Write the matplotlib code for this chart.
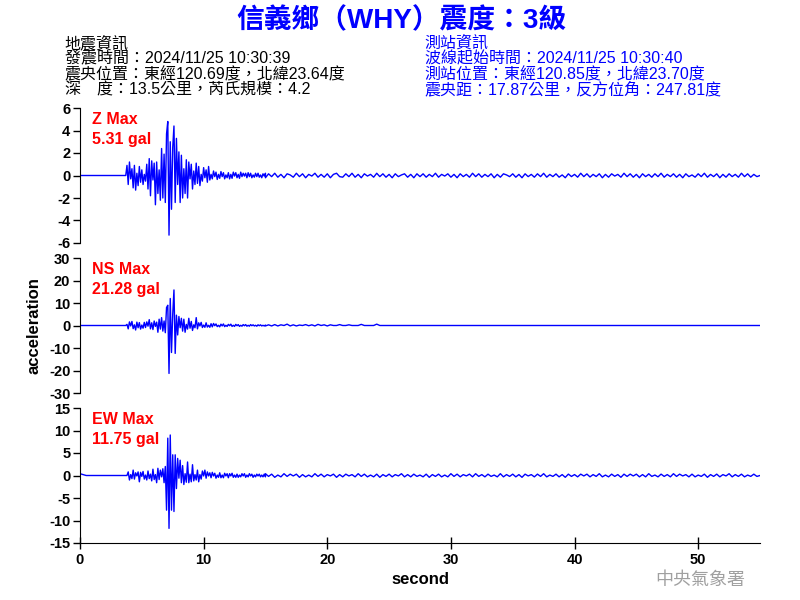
import numpy as np
import matplotlib
matplotlib.use("Agg")
import matplotlib.pyplot as plt

plt.rcParams['font.family'] = ['Liberation Sans', 'Noto Sans CJK TC', 'DejaVu Sans']
plt.rcParams['axes.unicode_minus'] = False

dt_pre, dt_core, dt_tail = 0.5, 0.1, 0.25

z_pre = [0.0, 0.0, 0.0, 0.0, 0.0, 0.0, 0.0, 0.0]
z_core = [0.0, 0.9, -0.8, 1.2, -0.3, 0.6, -1.1, 0.9, -1.3, 0.2, -0.9,
          0.8, -0.6, 0.5, -0.8, 0.1, -0.5, 1.0, -1.2, 1.5, -1.8,
          1.3, -0.4, 1.1, -2.6, 1.2, -1.6, 0.5, -2.2, 2.4, -2.0,
          1.9, -2.4, 3.7, 4.8, -5.3, 3.0, -3.0, 2.5, 4.4, -2.4,
          3.3, -0.8, 2.1, -2.4, 1.8, -2.0, 0.6, -1.6, 1.4, -2.0,
          1.2, -0.3, 1.0, -1.2, 0.4, -0.8, 1.1, -0.7, 0.8, -0.9,
          0.1, -0.5, 0.7, -0.2, 0.5, -0.6, 0.8, -0.4, 0.1, -0.3,
          0.4, -0.1, 0.3, -0.35, 0.1, -0.25, 0.35, -0.1, 0.25, -0.3,
          0.05, -0.2, 0.25, -0.3, 0.1, -0.25, 0.3, -0.05, 0.25, -0.2,
          0.1, -0.25, 0.3, -0.1, 0.2, -0.05, 0.2, -0.2, 0.25, -0.1,
          0.2, -0.2, 0.05, -0.15, 0.2, -0.1, 0.2, -0.15, 0.05, -0.2,
          0.15, -0.05, 0.2]
z_tail = [-0.2, 0.15, -0.1, 0.2, -0.15, 0.1, -0.2, 0.15, 0.05, -0.15,
          0.2, -0.1, 0.15, -0.2, 0.1, -0.05, 0.2, -0.15, 0.1, -0.15,
          0.15, -0.2, 0.1, 0.2, -0.1, -0.15, 0.15, -0.1, 0.2, -0.15,
          0.1, -0.2, 0.15, -0.05, 0.1, -0.15, 0.2, -0.1, 0.15, -0.15,
          0.1, -0.2, 0.15, -0.1, 0.05, 0.15, -0.15, 0.1, -0.2, 0.15,
          -0.1, 0.15, -0.15, 0.1, -0.1, 0.2, -0.15, 0.1, -0.05, 0.15,
          -0.15, 0.1, -0.2, 0.15, -0.1, 0.1, -0.15, 0.2, -0.1, 0.15,
          -0.15, 0.1, -0.1, 0.15, -0.2, 0.1, -0.15, 0.15, 0.05, -0.1,
          0.15, -0.15, 0.1, -0.2, 0.15, -0.1, 0.1, -0.15, 0.15, -0.1,
          0.2, -0.15, 0.1, -0.1, 0.15, -0.15, 0.05, -0.2, 0.15, -0.1,
          0.1, -0.15, 0.2, -0.1, 0.15, -0.15, 0.1, -0.1, 0.15, -0.2,
          0.1, -0.15, 0.15, -0.05, 0.1, -0.15, 0.2, -0.1, 0.15, -0.15,
          0.1, -0.2, 0.15, -0.1, 0.1, -0.15, 0.15, -0.1, 0.2, -0.15,
          0.1, -0.1, 0.15, -0.15, 0.1, -0.2, 0.15, -0.1, 0.05, -0.15,
          0.15, -0.1, 0.2, -0.15, 0.1, -0.1, 0.15, -0.2, 0.1, -0.15,
          0.15, -0.1, 0.1, -0.15, 0.2, -0.1, 0.15, -0.15, 0.1, -0.1, 0.0]

ns_pre = [0.0, 0.0, 0.0, 0.0, 0.0, 0.0, 0.0, 0.0]
ns_core = [0.0, 0.5, -1.5, 1.6, -0.2, 1.8, -1.4, 0.3, -2.0, 1.5, -1.0,
           1.3, -1.6, 0.2, -1.2, 1.4, -0.9, 1.6, -0.3, 2.6, -1.5,
           1.2, -1.8, 2.0, -0.4, 1.5, -3.0, 2.8, -1.6, 3.5, -2.5,
           2.0, -3.2, 8.0, 9.0, -21.3, 12.0, -12.0, 5.0, 15.8, -12.4,
           4.6, -4.2, 4.0, -1.0, 3.2, -2.5, 2.8, -3.0, 0.5, -1.6,
           3.2, -1.2, 1.8, -2.2, 0.3, -1.0, 3.5, -1.5, 1.2, -0.2,
           1.4, -0.9, 0.2, -0.8, 1.2, -0.7, 0.1, -0.8, 0.8, -0.6,
           0.9, -0.1, 0.7, -0.5, 0.1, -0.6, 0.6, -0.2, 0.7, -0.5,
           0.1, -0.4, 0.5, -0.1, 0.6, -0.4, 0.1, -0.4, 0.5, -0.1,
           0.4, -0.4, 0.1, -0.3, 0.4, -0.1, 0.4, -0.3, 0.1, -0.3,
           0.4, -0.1, 0.3, -0.2, 0.1, -0.3, 0.3, -0.1, 0.3, -0.2,
           0.1, -0.2, 0.2]
ns_tail = [-0.2, 0.3, -0.2, 0.4, -0.2, 0.3, 0.0, 0.6, -0.2, 0.3,
           -0.2, 0.2, 0.0, 0.4, -0.1, 0.3, -0.2, 0.5, 0.0, 0.3,
           -0.2, 0.3, 0.0, 0.0, 0.4, 0.0, 0.0, 0.3, 0.0, 0.0,
           0.0, 0.5, 0.0, 0.0, 0.0, 0.0, 0.6, 0.0, 0.0, 0.0,
           0.0, 0.0, 0.0, 0.0, 0.0, 0.0, 0.0, 0.0, 0.0, 0.0,
           0.0, 0.0, 0.0, 0.0, 0.0, 0.0, 0.0, 0.0, 0.0, 0.0,
           0.0, 0.0, 0.0, 0.0, 0.0, 0.0, 0.0, 0.0, 0.0, 0.0,
           0.0, 0.0, 0.0, 0.0, 0.0, 0.0, 0.0, 0.0, 0.0, 0.0,
           0.0, 0.0, 0.0, 0.0, 0.0, 0.0, 0.0, 0.0, 0.0, 0.0,
           0.0, 0.0, 0.0, 0.0, 0.0, 0.0, 0.0, 0.0, 0.0, 0.0,
           0.0, 0.0, 0.0, 0.0, 0.0, 0.0, 0.0, 0.0, 0.0, 0.0,
           0.0, 0.0, 0.0, 0.0, 0.0, 0.0, 0.0, 0.0, 0.0, 0.0,
           0.0, 0.0, 0.0, 0.0, 0.0, 0.0, 0.0, 0.0, 0.0, 0.0,
           0.0, 0.0, 0.0, 0.0, 0.0, 0.0, 0.0, 0.0, 0.0, 0.0,
           0.0, 0.0, 0.0, 0.0, 0.0, 0.0, 0.0, 0.0, 0.0, 0.0,
           0.0, 0.0, 0.0, 0.0, 0.0, 0.0, 0.0, 0.0, 0.0, 0.0, 0.0]

ew_pre = [0.4, 0.0, 0.0, 0.0, 0.0, 0.0, 0.0, 0.0]
ew_core = [0.0, 0.0, 0.8, -1.0, 0.2, -0.7, 1.2, -0.8, 0.6, -0.1, 0.8,
           -1.4, 0.7, -0.2, 0.9, -0.8, 0.1, -1.0, 1.0, -0.7, 0.3,
           -1.2, 1.4, -0.9, 0.2, -1.6, 1.6, -0.9, 1.2, -0.3, 1.5,
           -1.6, 2.0, -7.7, 8.3, -11.75, 9.0, -7.7, 4.6, -8.0, 4.6,
           -2.9, 3.8, -0.6, 3.4, -1.6, 2.2, -2.0, 0.4, -1.5, 3.0,
           -1.6, 0.3, -1.4, 2.4, -1.2, 0.2, -1.0, 1.2, -1.4, 0.2,
           -0.8, 1.0, -0.1, 1.2, -0.6, 0.8, -0.1, 0.6, -0.5, 0.7,
           -0.1, 0.5, -0.6, 0.1, -0.4, 0.6, -0.5, 0.1, -0.5, 0.5,
           -0.1, 0.4, -0.5, 0.4, -0.1, 0.5, -0.4, 0.1, -0.4, 0.3,
           -0.4, 0.1, -0.3, 0.4, -0.1, 0.4, -0.4, 0.1, -0.3, 0.4,
           -0.1, 0.3, -0.4, 0.1, -0.3, 0.3, -0.1, 0.3, -0.3, 0.1,
           -0.3, 0.3, -0.3]
ew_tail = [0.4, -0.2, 0.3, -0.4, 0.1, -0.3, 0.4, -0.2, 0.3, -0.1,
           0.3, -0.4, 0.2, -0.3, 0.1, -0.3, 0.4, -0.2, 0.3, -0.3,
           0.2, -0.1, 0.3, -0.4, 0.2, -0.3, 0.3, -0.1, 0.2, -0.3,
           0.4, -0.2, 0.3, -0.3, 0.1, -0.3, 0.3, -0.4, 0.2, -0.2,
           0.3, -0.3, 0.2, -0.1, 0.4, -0.3, 0.2, -0.3, 0.3, -0.2,
           0.1, -0.3, 0.3, -0.4, 0.2, -0.2, 0.3, -0.3, 0.1, -0.3,
           0.4, -0.2, 0.3, -0.3, 0.2, -0.1, 0.3, -0.3, 0.4, -0.2,
           0.2, -0.3, 0.3, -0.2, 0.1, -0.3, 0.4, -0.3, 0.2, -0.2,
           0.3, -0.3, 0.2, -0.4, 0.3, -0.1, 0.2, -0.3, 0.3, -0.2,
           0.4, -0.3, 0.1, -0.2, 0.3, -0.3, 0.2, -0.4, 0.3, -0.2,
           0.2, -0.3, 0.3, -0.1, 0.3, -0.3, 0.2, -0.2, 0.4, -0.3,
           0.1, -0.3, 0.3, -0.2, 0.2, -0.4, 0.3, -0.2, 0.3, -0.1,
           0.3, -0.3, 0.2, -0.3, 0.4, -0.2, 0.1, -0.3, 0.3, -0.2,
           0.2, -0.3, 0.4, -0.2, 0.3, -0.1, 0.2, -0.3, 0.3, -0.3,
           0.1, -0.2, 0.3, -0.4, 0.2, -0.2, 0.3, -0.3, 0.2, -0.1,
           0.4, -0.3, 0.2, -0.2, 0.3, -0.3, 0.1, -0.2, 0.3, -0.2, 0.0]

channels = ['Z', 'NS', 'EW']
max_labels = ['5.31', '21.28', '11.75']
y_limits = [6, 30, 15]
y_steps = [2, 10, 5]
traces = [(z_pre, z_core, z_tail), (ns_pre, ns_core, ns_tail), (ew_pre, ew_core, ew_tail)]

title = '信義鄉（WHY）震度：3級'
quake_info = ['地震資訊', '發震時間：2024/11/25 10:30:39',
              '震央位置：東經120.69度，北緯23.64度', '深　度：13.5公里，芮氏規模：4.2']
station_info = ['測站資訊', '波線起始時間：2024/11/25 10:30:40',
                '測站位置：東經120.85度，北緯23.70度', '震央距：17.87公里，反方位角：247.81度']


def build_time(pre, core, tail):
    t_pre = np.arange(len(pre)) * dt_pre
    t_core = 3.7 + np.arange(len(core)) * dt_core
    t_tail = 15.0 + np.arange(len(tail)) * dt_tail
    return np.concatenate([t_pre, t_core, t_tail]), np.concatenate([pre, core, tail])


fig = plt.figure(figsize=(8, 6), dpi=100)
blue = '#0000ff'

bottoms = [0.595, 0.345, 0.095]
for i, ch in enumerate(channels):
    ax = fig.add_axes([0.1, bottoms[i], 0.85, 0.225])
    t, v = build_time(*traces[i])
    ax.plot(t, v, color=blue, lw=1.0)
    lim = y_limits[i]
    ax.set_xlim(0, 55)
    ax.set_ylim(-lim, lim)
    ax.set_yticks(np.arange(-lim, lim + 1, y_steps[i]))
    for s in ['top', 'right']:
        ax.spines[s].set_visible(False)
    ax.tick_params(axis='y', direction='out', length=5, width=1, pad=2, labelsize=10.5)
    for lab in ax.get_yticklabels():
        lab.set_fontweight('bold')
    if i < 2:
        ax.spines['bottom'].set_visible(False)
        ax.set_xticks([])
    else:
        ax.set_xticks([0, 10, 20, 30, 40, 50])
        ax.tick_params(axis='x', direction='inout', length=8, width=1, pad=3, labelsize=10.5)
        for lab in ax.get_xticklabels():
            lab.set_fontweight('bold')
        ax.set_xlabel('second', fontsize=12, fontweight='bold', labelpad=4)
    ax.text(0.018, 0.915, f'{ch} Max', transform=ax.transAxes, color='red',
            fontsize=11.5, fontweight='bold', va='center', ha='left')
    ax.text(0.018, 0.77, f'{max_labels[i]} gal', transform=ax.transAxes, color='red',
            fontsize=11.5, fontweight='bold', va='center', ha='left')

fig.text(0.042, 0.458, 'acceleration', rotation=90, fontsize=12, fontweight='bold',
         ha='center', va='center')

fig.text(0.502, 0.966, title, color=blue, fontsize=20, fontweight='bold',
         ha='center', va='center')

line_y = [0.928, 0.902, 0.876, 0.850]
for y, a, b in zip(line_y, quake_info, station_info):
    fig.text(0.081, y, a, fontsize=11.5, color='black', ha='left', va='center')
    fig.text(0.531, y, b, fontsize=11.5, color=blue, ha='left', va='center')

fig.text(0.875, 0.032, '中央氣象署', fontsize=13, color='#a0a0a0', ha='center',
         va='center')

fig.savefig('out.png', dpi=100)
